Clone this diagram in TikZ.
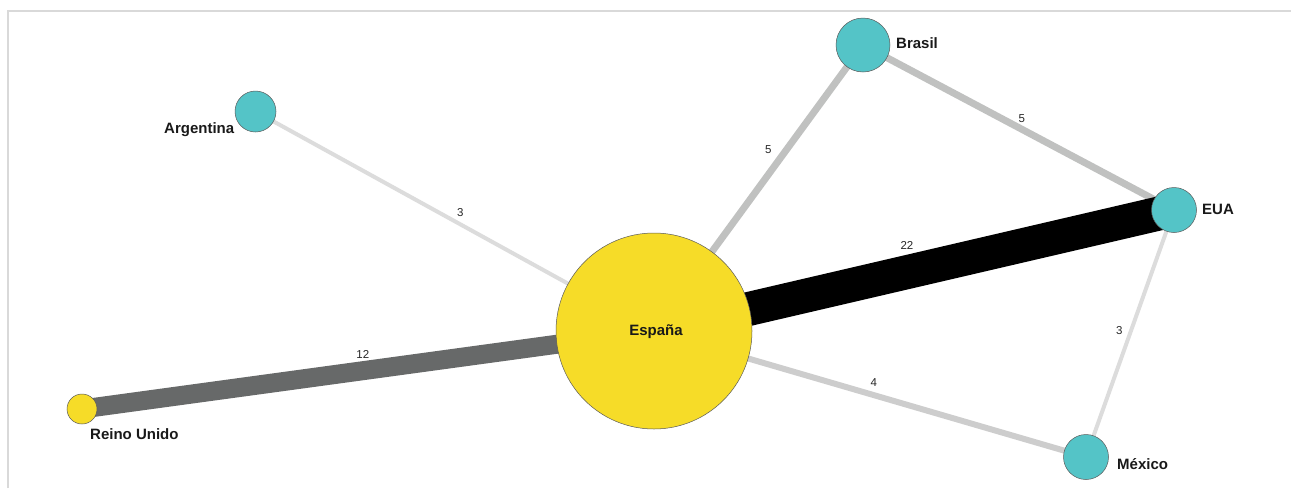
\documentclass[tikz,border=0pt]{standalone}
\usepackage{fontspec}
\setmainfont{Liberation Sans}
\usetikzlibrary{backgrounds}
\definecolor{tealc}{HTML}{54C4C7}
\definecolor{yellc}{HTML}{F6DC28}
\definecolor{edgedark}{HTML}{676969}
\definecolor{edgemid}{HTML}{C0C1C0}
\definecolor{edgemex}{HTML}{CDCDCD}
\definecolor{edgelight}{HTML}{DCDCDC}
\definecolor{framec}{HTML}{D9D9D9}
\begin{document}
\begin{tikzpicture}[x=1pt,y=-1pt,
  country/.style={circle, draw=black!65, line width=0.5pt, fill=tealc, inner sep=0pt, minimum size=#1},
  yellownode/.style={circle, draw=black!65, line width=0.5pt, fill=yellc, inner sep=0pt, minimum size=#1},
  nlabel/.style={font=\bfseries\fontsize{15}{17}\selectfont, inner sep=0pt, text=black!90},
  elabel/.style={font=\fontsize{11.5}{13}\selectfont, inner sep=0pt, text=black!85}]
\useasboundingbox (0,0) rectangle (1291,488);
% frame
\draw[framec, line width=1.5pt] (8,488) -- (8,11) -- (1291,11);
% nodes
\node[yellownode=196pt] (esp) at (654,331) {};
\node[country=41pt] (arg) at (255.5,111.5) {};
\node[country=54pt] (bra) at (863,45) {};
\node[country=45pt] (eua) at (1174,210) {};
\node[country=45pt] (mex) at (1086,457) {};
\node[yellownode=30pt] (ru) at (82,409) {};
% node labels
\node[nlabel, anchor=base] (tesp) at (656,335) {España};
\node[nlabel, anchor=base west] (targ) at (164,133) {Argentina};
\node[nlabel, anchor=base west] (tbra) at (896,48) {Brasil};
\node[nlabel, anchor=base west] (teua) at (1202,214) {EUA};
\node[nlabel, anchor=base west] (tmex) at (1117,469) {México};
\node[nlabel, anchor=base west] (tru) at (90,439) {Reino Unido};
% edges
\begin{pgfonlayer}{background}
\draw[line width=4pt, edgelight] (arg.center) -- (esp.center) node[elabel, pos=.514, yshift=12pt] (l1) {3};
\draw[line width=19pt, edgedark] (ru.center) -- (esp.center) node[elabel, pos=.491, yshift=16pt] (l2) {12};
\draw[line width=7pt, edgemid] (esp.center) -- (bra.center) node[elabel, pos=.633, xshift=-18pt] (l3) {5};
\draw[line width=7pt, edgemid] (bra.center) -- (eua.center) node[elabel, pos=.511, yshift=11pt] (l4) {5};
\draw[line width=34pt, black] (esp.center) -- (eua.center) node[elabel, pos=.4865, yshift=27pt] (l5) {22};
\draw[line width=6pt, edgemex] (esp.center) -- (mex.center) node[elabel, pos=.509, yshift=13pt] (l6) {4};
\draw[line width=4pt, edgelight] (eua.center) -- (mex.center) node[elabel, pos=.486, xshift=-12pt] (l7) {3};
\end{pgfonlayer}
\end{tikzpicture}
\end{document}
